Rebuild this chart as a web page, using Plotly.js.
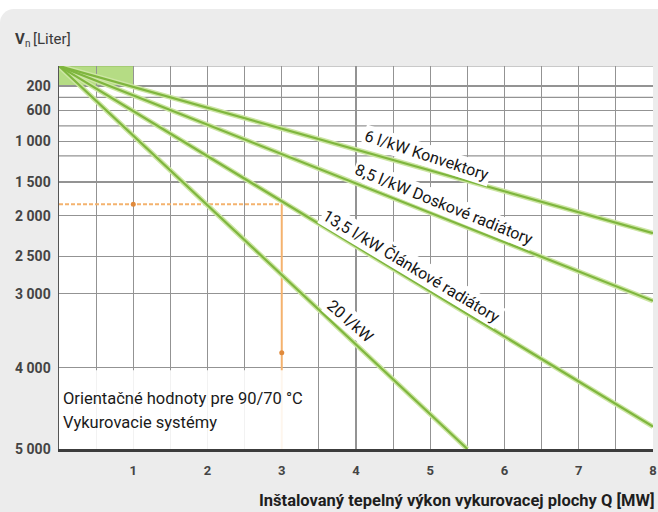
<!DOCTYPE html>
<html>
<head>
<meta charset="utf-8">
<script src="https://cdn.plot.ly/plotly-3.0.1.min.js"></script>
<style>
  html, body { margin: 0; padding: 0; background: #ffffff; }
  #panel { position: absolute; left: 0; top: 9px; width: 658px; height: 503px; background: #ececec; border-top-left-radius: 14px; }
  #chart { position: absolute; left: 0; top: 0; width: 658px; height: 512px; }
</style>
</head>
<body>
<div id="panel"></div>
<div id="chart"></div>
<script>
// ---- data ----
const seriesNames = ['6 l/kW Konvektory', '8,5 l/kW Doskové radiátory', '13,5 l/kW Článkové radiátory', '20 l/kW'];
const startQ = 0;
const startV = 0;
const endQ = [8, 8, 8, 5.5];
const endV = [2215, 3095, 4725, 5000];
const labelQ = [4.96, 5.19, 4.75, 3.93];
const labelV = [1190, 1830, 2630, 3370];
const labelAngle = [18, 22, 31, 41];
// example reading (orange)
const exampleQ = 3;
const exampleV = 1830;
const exampleMarkQ = [1, 3];
const exampleMarkV = [1830, 3797];
// axes
const xTickVals = [1, 2, 3, 4, 5, 6, 7, 8];
const yTickV = [200, 600, 1000, 1500, 2000, 2500, 3000, 4000, 5000];
const yTickText = ['200', '600', '1 000', '1 500', '2 000', '2 500', '3 000', '4 000', '5 000'];
const yExtraGridV = [0, 400, 800, 1200];
// the chart's own non-uniform volume scale: scale units at each grid value
const yScaleV = [0, 200, 400, 600, 800, 1000, 1200, 1500, 2000, 2500, 3000, 4000, 5000];
const yScaleUnits = [0, 20, 31.3, 44.3, 60, 75.3, 90, 116, 150, 190.3, 228, 302, 383.3];

function yScale(v) {
  for (let i = 0; i < yScaleV.length - 1; i++) {
    if (v <= yScaleV[i + 1]) {
      const t = (v - yScaleV[i]) / (yScaleV[i + 1] - yScaleV[i]);
      return yScaleUnits[i] + t * (yScaleUnits[i + 1] - yScaleUnits[i]);
    }
  }
  return yScaleUnits[yScaleUnits.length - 1];
}

const FONT = 'Roboto, "Open Sans", sans-serif';
const GRID = '#939393';
const traces = [];

// orange example lines
traces.push({
  x: [startQ, exampleQ], y: [yScale(exampleV), yScale(exampleV)],
  mode: 'lines', line: { color: '#f4b26e', width: 2, dash: '4px,2px' }, hoverinfo: 'skip', showlegend: false
});
traces.push({
  x: [exampleQ, exampleQ], y: [yScale(exampleV), yScale(5000)],
  mode: 'lines', line: { color: '#f4b26e', width: 2 }, hoverinfo: 'skip', showlegend: false
});

// green lines (halo + core)
for (let i = 0; i < endQ.length; i++) {
  traces.push({
    x: [startQ, endQ[i]], y: [yScale(startV), yScale(endV[i])],
    mode: 'lines', line: { color: '#cde6a4', width: 5 }, hoverinfo: 'skip', showlegend: false
  });
}
for (let i = 0; i < endQ.length; i++) {
  traces.push({
    x: [startQ, endQ[i]], y: [yScale(startV), yScale(endV[i])],
    name: seriesNames[i],
    mode: 'lines', line: { color: '#7fb63e', width: 2.2 }, showlegend: false
  });
}
// orange markers
traces.push({
  x: exampleMarkQ, y: exampleMarkV.map(yScale),
  mode: 'markers', marker: { color: '#e08a3c', size: 5 }, hoverinfo: 'skip', showlegend: false
});

const annotations = [];
for (let i = 0; i < seriesNames.length; i++) {
  annotations.push({
    x: labelQ[i], y: yScale(labelV[i]), xref: 'x', yref: 'y',
    text: seriesNames[i], showarrow: false, textangle: labelAngle[i],
    bgcolor: '#ffffff', borderpad: 1,
    font: { family: FONT, size: 16, color: '#151515' }
  });
}
annotations.push({
  xref: 'paper', yref: 'paper', x: 0, y: 1, xanchor: 'left', yanchor: 'middle',
  xshift: -46, yshift: 27,
  text: '<b>V</b>', showarrow: false,
  font: { family: FONT, size: 15, color: '#3a3a3a' }
});
annotations.push({
  xref: 'paper', yref: 'paper', x: 0, y: 1, xanchor: 'left', yanchor: 'middle',
  xshift: -36, yshift: 23,
  text: 'n', showarrow: false,
  font: { family: FONT, size: 10, color: '#3a3a3a' }
});
annotations.push({
  xref: 'paper', yref: 'paper', x: 0, y: 1, xanchor: 'left', yanchor: 'middle',
  xshift: -28, yshift: 27,
  text: '[Liter]', showarrow: false,
  font: { family: FONT, size: 15, color: '#3a3a3a' }
});
annotations.push({
  xref: 'paper', yref: 'paper', x: 1, y: 0, xanchor: 'right', yanchor: 'middle',
  xshift: 4, yshift: -51,
  text: '<b>Inštalovaný tepelný výkon vykurovacej plochy Q [MW]</b>', showarrow: false,
  font: { family: FONT, size: 16.5, color: '#1e1e1e' }
});
annotations.push({
  xref: 'paper', yref: 'paper', x: 0, y: 0, xanchor: 'left', yanchor: 'middle',
  xshift: 2, yshift: 51,
  text: 'Orientačné hodnoty pre 90/70 °C', showarrow: false,
  font: { family: FONT, size: 16.5, color: '#1a1a1a' }
});
annotations.push({
  xref: 'paper', yref: 'paper', x: 0, y: 0, xanchor: 'left', yanchor: 'middle',
  xshift: 2, yshift: 27,
  text: 'Vykurovacie systémy', showarrow: false,
  font: { family: FONT, size: 16.5, color: '#1a1a1a' }
});

const shapes = [
  { type: 'rect', xref: 'x', yref: 'y', x0: 0, x1: 1, y0: yScale(0), y1: yScale(200),
    fillcolor: 'rgba(150,205,80,0.7)', line: { width: 0 }, layer: 'below' }
];
yExtraGridV.forEach(v => shapes.push({
  type: 'line', xref: 'paper', yref: 'y', x0: 0, x1: 1, y0: yScale(v), y1: yScale(v),
  line: { color: GRID, width: 1.2 }, layer: 'below'
}));
shapes.push({ type: 'rect', xref: 'paper', yref: 'y', x0: 0, x1: 0.422, y0: yScale(4030), y1: yScale(5000),
  fillcolor: 'rgba(255,255,255,0.88)', line: { width: 0 }, layer: 'above' });

const layout = {
  width: 658, height: 512,
  margin: { l: 59, r: 5, t: 66, b: 63 },
  paper_bgcolor: 'rgba(0,0,0,0)',
  plot_bgcolor: '#ffffff',
  showlegend: false,
  xaxis: {
    range: [0, 8], tickmode: 'array', tickvals: xTickVals,
    ticktext: xTickVals.map(v => '<b>' + v + '</b>'),
    showgrid: true, gridcolor: GRID, gridwidth: 1.2,
    minor: { dtick: 0.5, showgrid: true, gridcolor: GRID, gridwidth: 1.2 },
    zeroline: false, showline: true, linecolor: '#3c3c3c', linewidth: 2.5,
    ticks: '', ticklabelstandoff: 8,
    tickfont: { family: FONT, size: 13, color: '#444444' }
  },
  yaxis: {
    range: [yScaleUnits[yScaleUnits.length - 1], 0],
    tickmode: 'array', tickvals: yTickV.map(yScale),
    ticktext: yTickText.map(t => '<b>' + t + '</b>'),
    showgrid: true, gridcolor: GRID, gridwidth: 1.2,
    zeroline: false, showline: true, linecolor: '#555555', linewidth: 1.5,
    ticks: '', ticklabelstandoff: 4,
    tickfont: { family: FONT, size: 14, color: '#444444' }
  },
  annotations: annotations,
  shapes: shapes
};

Plotly.newPlot('chart', traces, layout, { staticPlot: true, displayModeBar: false });
</script>
</body>
</html>
